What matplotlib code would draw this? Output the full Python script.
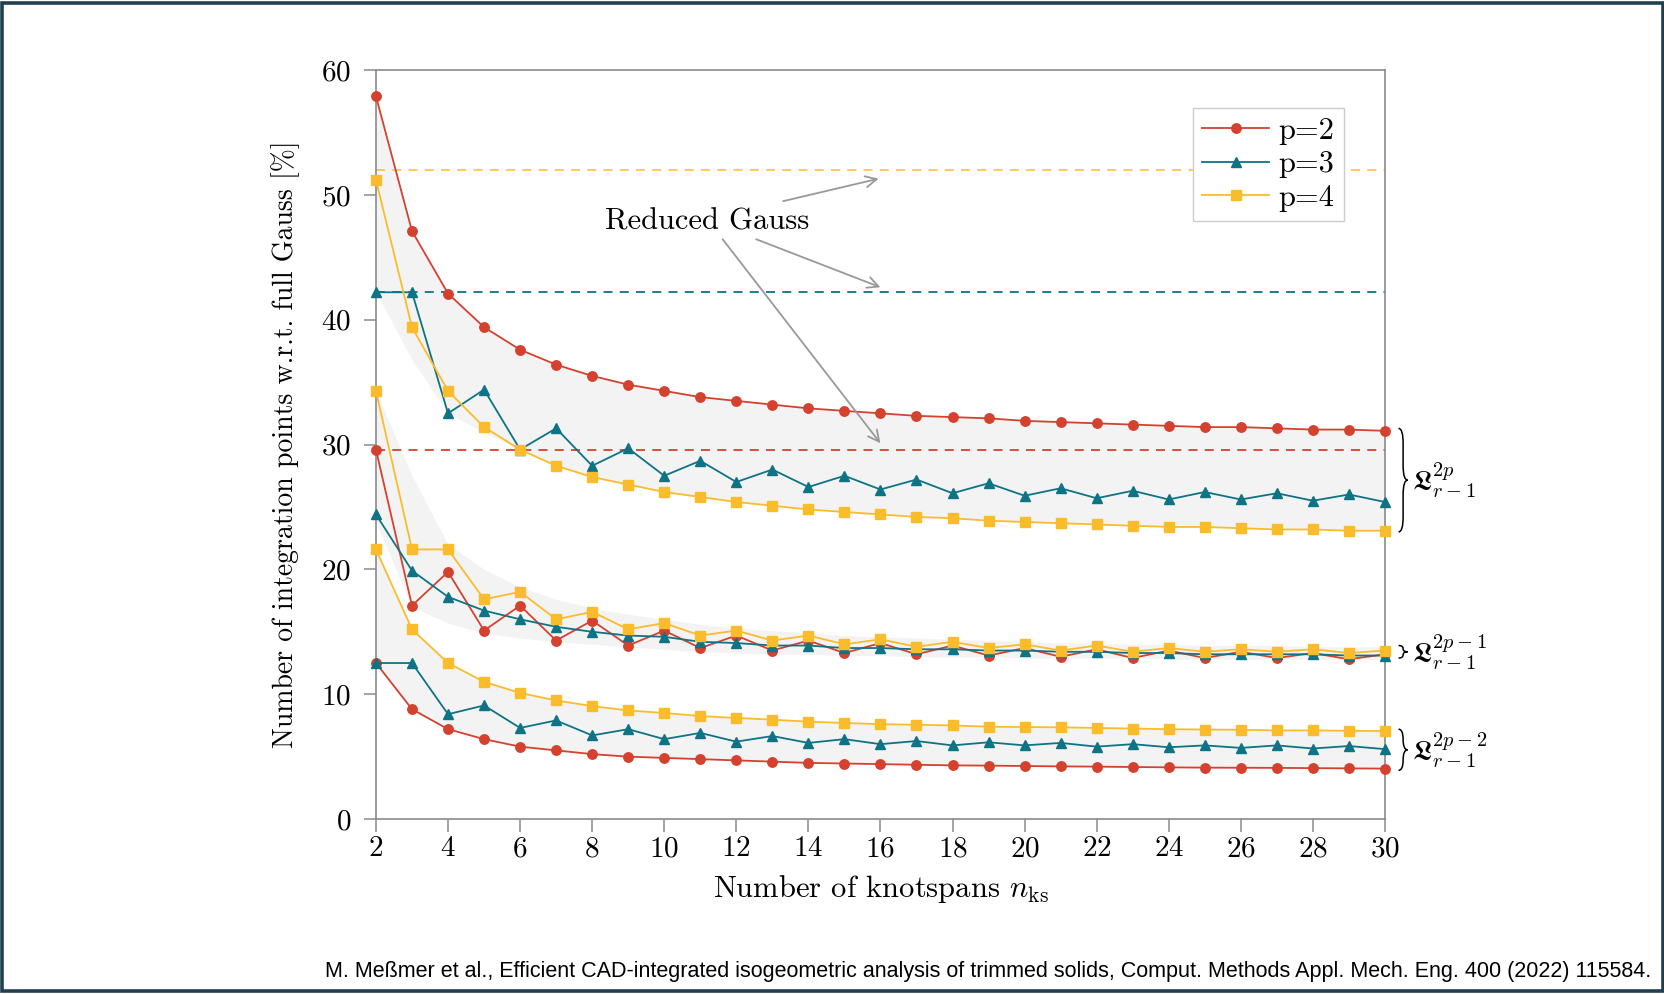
import matplotlib
matplotlib.use("Agg")
import matplotlib.pyplot as plt
import numpy as np
from matplotlib.path import Path
from matplotlib.patches import PathPatch, Rectangle
from matplotlib.transforms import blended_transform_factory

plt.rcParams["font.family"] = "serif"
plt.rcParams["font.serif"] = ["cmr10"]
plt.rcParams["mathtext.fontset"] = "cm"
plt.rcParams["axes.formatter.use_mathtext"] = True

n_ks = list(range(2, 31))

# L^{2p}_{r-1}
p2_2p = [57.9, 47.1, 42.1, 39.4, 37.6, 36.4, 35.5, 34.8, 34.3, 33.8, 33.5, 33.2, 32.9, 32.7, 32.5,
         32.3, 32.2, 32.1, 31.9, 31.8, 31.7, 31.6, 31.5, 31.4, 31.4, 31.3, 31.2, 31.2, 31.1]
p3_2p = [42.2, 42.2, 32.5, 34.4, 29.6, 31.3, 28.3, 29.7, 27.5, 28.7, 27.0, 28.0, 26.6, 27.5, 26.4,
         27.2, 26.1, 26.9, 25.9, 26.5, 25.7, 26.3, 25.6, 26.2, 25.6, 26.1, 25.5, 26.0, 25.4]
p4_2p = [51.2, 39.4, 34.3, 31.4, 29.6, 28.3, 27.4, 26.8, 26.2, 25.8, 25.4, 25.1, 24.8, 24.6, 24.4,
         24.2, 24.1, 23.9, 23.8, 23.7, 23.6, 23.5, 23.4, 23.4, 23.3, 23.2, 23.2, 23.1, 23.1]

# L^{2p-1}_{r-1}
p2_2p1 = [29.6, 17.1, 19.8, 15.1, 17.1, 14.3, 15.9, 13.9, 15.1, 13.7, 14.7, 13.5, 14.3, 13.3, 14.1,
          13.2, 13.9, 13.1, 13.7, 13.0, 13.6, 12.9, 13.5, 12.9, 13.4, 12.9, 13.3, 12.8, 13.2]
p3_2p1 = [24.4, 19.9, 17.8, 16.7, 16.0, 15.4, 15.0, 14.7, 14.6, 14.2, 14.1, 13.9, 13.9, 13.7, 13.7,
          13.6, 13.6, 13.5, 13.5, 13.4, 13.4, 13.3, 13.3, 13.2, 13.2, 13.2, 13.2, 13.1, 13.1]
p4_2p1 = [34.3, 21.6, 21.6, 17.6, 18.2, 16.0, 16.6, 15.2, 15.7, 14.7, 15.1, 14.3, 14.7, 14.0, 14.4,
          13.8, 14.2, 13.7, 14.0, 13.5, 13.9, 13.4, 13.7, 13.4, 13.6, 13.4, 13.6, 13.3, 13.5]

# L^{2p-2}_{r-1}
p2_2p2 = [12.5, 8.8, 7.2, 6.4, 5.8, 5.5, 5.2, 5.0, 4.9, 4.8, 4.7, 4.6, 4.5, 4.45, 4.4,
          4.35, 4.3, 4.28, 4.25, 4.22, 4.2, 4.17, 4.14, 4.12, 4.11, 4.1, 4.08, 4.06, 4.04]
p3_2p2 = [12.5, 12.5, 8.4, 9.1, 7.3, 7.9, 6.7, 7.2, 6.4, 6.9, 6.2, 6.65, 6.1, 6.4, 6.0,
          6.25, 5.9, 6.15, 5.9, 6.1, 5.8, 6.0, 5.75, 5.9, 5.7, 5.9, 5.65, 5.85, 5.6]
p4_2p2 = [21.6, 15.2, 12.5, 11.0, 10.1, 9.5, 9.05, 8.7, 8.5, 8.25, 8.1, 7.96, 7.8, 7.7, 7.6,
          7.55, 7.5, 7.4, 7.37, 7.35, 7.3, 7.25, 7.2, 7.17, 7.15, 7.1, 7.1, 7.07, 7.05]

# shaded envelopes
band_2p_lo = [42.2, 36.8, 32.5, 31.0, 29.6, 28.3, 27.4, 26.8, 26.2, 25.8, 25.4, 25.1, 24.8, 24.6, 24.4,
              24.2, 24.1, 23.9, 23.8, 23.7, 23.6, 23.5, 23.4, 23.4, 23.3, 23.2, 23.2, 23.1, 23.1]
band_2p1_hi = [34.3, 27.5, 22.0, 20.0, 18.6, 17.6, 16.9, 16.4, 16.0, 15.6, 15.3, 15.1, 14.9, 14.7, 14.6,
               14.5, 14.4, 14.3, 14.2, 14.1, 14.1, 14.0, 14.0, 13.9, 13.9, 13.9, 13.8, 13.8, 13.8]
band_2p1_lo = [23.8, 17.0, 15.7, 14.9, 14.5, 14.2, 14.0, 13.8, 13.6, 13.4, 13.3, 13.2, 13.2, 13.1, 13.1,
               13.0, 13.0, 13.0, 12.9, 12.9, 12.9, 12.9, 12.8, 12.8, 12.8, 12.8, 12.8, 12.8, 12.8]

reduced_gauss = [29.6, 42.2, 52.0]  # p=2, p=3, p=4

red = "#d4412f"
teal = "#0e7385"
yellow = "#fbbc2c"
colors = [red, teal, yellow]
markers = ["o", "^", "s"]
labels = ["p=2", "p=3", "p=4"]

fig = plt.figure(figsize=(16.65, 9.94), dpi=100)
ax = fig.add_axes([0.2258, 0.176, 0.606, 0.7535])

shade = "#f3f3f3"
ax.fill_between(n_ks, band_2p_lo, p2_2p, color=shade, lw=0, zorder=0)
ax.fill_between(n_ks, band_2p1_lo, band_2p1_hi, color=shade, lw=0, zorder=0)
ax.fill_between(n_ks, p2_2p2, p4_2p2, color=shade, lw=0, zorder=0)

for val, c in zip(reduced_gauss, colors):
    ax.axhline(val, color=c, lw=1.3, dashes=(5, 4), alpha=0.85 if c == yellow else 1, zorder=1)

groups = [(p2_2p, p3_2p, p4_2p), (p2_2p1, p3_2p1, p4_2p1), (p2_2p2, p3_2p2, p4_2p2)]
for g, series in enumerate(groups):
    for i, ys in enumerate(series):
        ax.plot(n_ks, ys, color=colors[i], marker=markers[i], ms=6.5 if i else 6.8, lw=1.3,
                label=labels[i] if g == 0 else None, zorder=3, clip_on=False)

ax.set_xlim(2, 30)
ax.set_ylim(0, 60)
ax.set_xticks(range(2, 31, 2))
ax.set_yticks(range(0, 61, 10))
for s in ax.spines.values():
    s.set_color("#8a8a8a")
    s.set_linewidth(1.2)
ax.tick_params(direction="out", length=9, width=1.1, color="#8a8a8a", labelsize=21)
ax.tick_params(axis="x", pad=3)
ax.tick_params(axis="y", pad=9)
ax.set_xlabel(r"Number of knotspans $n_{\mathrm{ks}}$", fontsize=22, labelpad=8)
ax.set_ylabel("Number of integration points w.r.t. full Gauss [%]", fontsize=20, labelpad=15)

leg = ax.legend(loc="upper right", bbox_to_anchor=(0.959, 0.949), fontsize=22, fancybox=False,
                edgecolor="#cccccc", framealpha=1, handlelength=2.2, borderpad=0.3,
                labelspacing=0.2, handletextpad=0.3, borderaxespad=0)
leg.get_frame().set_linewidth(1.0)

# Reduced Gauss annotation
ax.text(11.18, 47.86, "Reduced Gauss", fontsize=22, ha="center", va="center")
arrows = [((13.3, 49.5), (15.95, 51.3)), ((12.55, 46.45), (16.0, 42.6)), ((11.62, 46.45), (16.0, 30.1))]
for start, end in arrows:
    ax.annotate("", xy=end, xytext=start,
                arrowprops=dict(arrowstyle="->", color="#999999", lw=1.3, mutation_scale=20,
                                shrinkA=0, shrinkB=0))

# curly braces with labels
trans = blended_transform_factory(ax.transAxes, ax.transData)


def brace(y_top, y_bot, label, x0=1.0135, w=0.009):
    ym = (y_top + y_bot) / 2
    d = min(1.2, (y_top - y_bot) / 4)
    xm = x0 + w / 2
    verts = [(x0, y_top), (xm, y_top), (xm, y_top - d), (xm, ym + d), (xm, ym), (x0 + w, ym),
             (xm, ym), (xm, ym - d), (xm, y_bot + d), (xm, y_bot), (x0, y_bot)]
    codes = [Path.MOVETO, Path.CURVE3, Path.CURVE3, Path.LINETO, Path.CURVE3, Path.CURVE3,
             Path.CURVE3, Path.CURVE3, Path.LINETO, Path.CURVE3, Path.CURVE3]
    ax.add_patch(PathPatch(Path(verts, codes), fill=False, lw=1.1, ec="black",
                           transform=trans, clip_on=False))
    ax.text(x0 + w + 0.004, ym, label, fontsize=21, ha="left", va="center", transform=trans)


brace(31.3, 23.0, r"$\mathfrak{L}_{r-1}^{2p}$")
brace(13.9, 12.9, r"$\mathfrak{L}_{r-1}^{2p-1}$")
brace(7.2, 3.9, r"$\mathfrak{L}_{r-1}^{2p-2}$")

fig.text(0.9916, 0.017, "M. Meßmer et al., Efficient CAD-integrated isogeometric analysis of trimmed solids, "
         "Comput. Methods Appl. Mech. Eng. 400 (2022) 115584.",
         ha="right", va="baseline", fontsize=15.5, family="Liberation Sans")

fig.add_artist(Rectangle((0.0015, 0.003), 0.997, 0.994, transform=fig.transFigure, fill=False,
                         lw=2.6, ec="#21404f"))

fig.savefig("out.png", dpi=100)
